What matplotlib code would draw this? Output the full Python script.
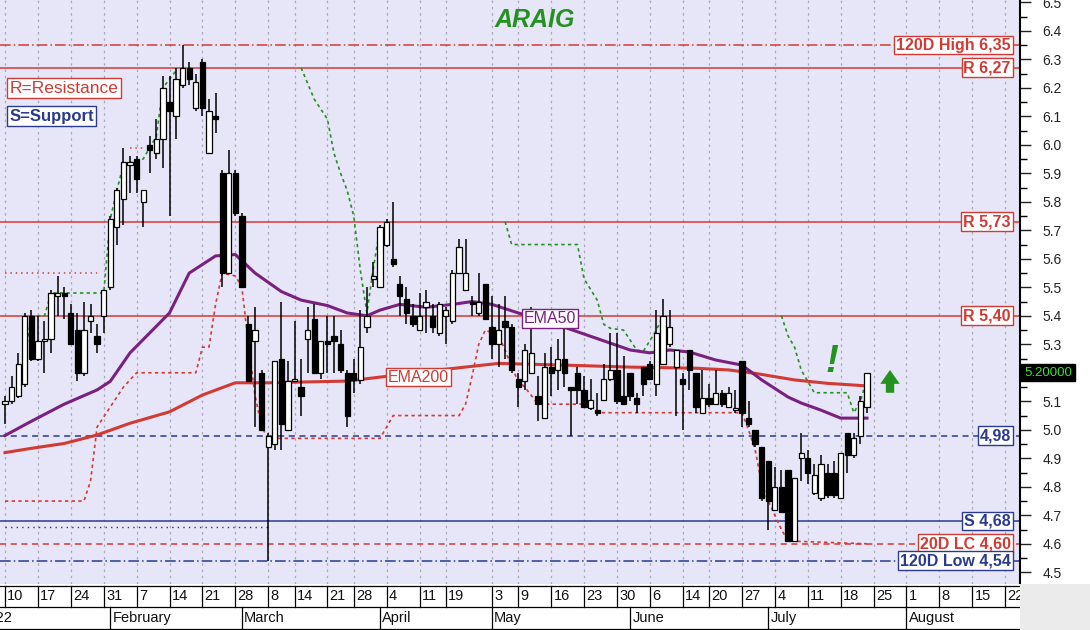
import numpy as np
import pandas as pd
import matplotlib
matplotlib.use('Agg')
import matplotlib.pyplot as plt
from matplotlib.patches import Rectangle

plt.rcParams['font.family'] = ['Liberation Sans', 'DejaVu Sans']

# ---- data ----
start, end = '2022-01-10', '2022-07-22'
holidays = ['2022-03-07', '2022-03-25', '2022-04-15', '2022-04-18',
            '2022-04-22', '2022-04-25', '2022-05-02', '2022-06-13']

opens = [5.09, 5.10, 5.12, 5.16, 5.40, 5.25, 5.31, 5.32, 5.47, 5.48,
         5.41, 5.35, 5.20, 5.38, 5.33, 5.40, 5.50, 5.71, 5.81, 5.93,
         5.95, 5.80, 6.00, 5.97, 6.02, 6.15, 6.10, 6.21, 6.27, 6.13,
         6.29, 5.97, 6.10, 5.90, 5.55, 5.90, 5.75, 5.37, 5.31, 5.20,
         4.94, 4.95, 5.25, 5.00, 5.17, 5.15, 5.32, 5.39, 5.20, 5.31,
         5.33, 5.30, 5.20, 5.20, 5.175, 5.36, 5.53, 5.50, 5.65, 5.60,
         5.51, 5.46, 5.40, 5.35, 5.43, 5.40, 5.34, 5.40, 5.38, 5.55,
         5.49, 5.45, 5.41, 5.51, 5.36, 5.30, 5.38, 5.36, 5.18, 5.17,
         5.20, 5.12, 5.04, 5.22, 5.21, 5.25, 5.15, 5.20, 5.14, 5.075,
         5.07, 5.105, 5.18, 5.21, 5.12, 5.20, 5.11, 5.22, 5.23, 5.16,
         5.23, 5.30, 5.22, 5.18, 5.28, 5.20, 5.06, 5.11, 5.09, 5.13,
         5.08, 5.07, 5.24, 5.04, 5.00, 4.94, 4.89, 4.72, 4.80, 4.86,
         4.61, 4.90, 4.90, 4.78, 4.76, 4.85, 4.85, 4.76, 4.99, 4.91,
         4.98, 5.08]
highs = [5.12, 5.19, 5.27, 5.41, 5.42, 5.40, 5.38, 5.49, 5.54, 5.50,
         5.44, 5.41, 5.45, 5.44, 5.37, 5.49, 5.75, 5.85, 5.99, 5.96,
         5.96, 5.84, 6.03, 6.09, 6.24, 6.24, 6.27, 6.35, 6.29, 6.25,
         6.30, 6.16, 6.18, 5.91, 5.98, 5.91, 5.76, 5.40, 5.43, 5.21,
         4.99, 5.24, 5.45, 5.24, 5.38, 5.25, 5.43, 5.44, 5.31, 5.40,
         5.40, 5.35, 5.21, 5.25, 5.42, 5.50, 5.59, 5.72, 5.74, 5.80,
         5.54, 5.50, 5.44, 5.48, 5.49, 5.44, 5.45, 5.43, 5.56, 5.67,
         5.67, 5.47, 5.55, 5.51, 5.47, 5.44, 5.47, 5.37, 5.20, 5.30,
         5.43, 5.19, 5.27, 5.29, 5.32, 5.36, 5.15, 5.22, 5.19, 5.18,
         5.13, 5.23, 5.34, 5.34, 5.26, 5.20, 5.13, 5.22, 5.24, 5.42,
         5.46, 5.42, 5.28, 5.20, 5.28, 5.20, 5.21, 5.16, 5.21, 5.14,
         5.15, 5.14, 5.24, 5.10, 5.00, 4.94, 4.89, 4.87, 4.86, 4.86,
         4.83, 4.99, 4.93, 4.88, 4.91, 4.88, 4.89, 4.92, 4.99, 4.99,
         5.12, 5.20]
lows = [5.02, 5.09, 5.11, 5.15, 5.24, 5.24, 5.20, 5.27, 5.40, 5.39,
        5.30, 5.17, 5.19, 5.34, 5.27, 5.34, 5.49, 5.65, 5.72, 5.83,
        5.83, 5.71, 5.90, 5.95, 5.92, 5.75, 6.02, 6.20, 6.21, 6.12,
        6.10, 5.97, 6.04, 5.50, 5.55, 5.75, 5.50, 5.17, 5.01, 5.00,
        4.54, 4.93, 4.93, 5.00, 5.17, 5.05, 5.20, 5.20, 5.18, 5.20,
        5.20, 5.20, 5.01, 5.13, 5.16, 5.34, 5.50, 5.50, 5.64, 5.57,
        5.40, 5.37, 5.36, 5.35, 5.34, 5.34, 5.33, 5.30, 5.37, 5.55,
        5.49, 5.40, 5.40, 5.39, 5.25, 5.22, 5.25, 5.20, 5.08, 5.14,
        5.20, 5.03, 5.04, 5.12, 5.14, 5.15, 4.98, 5.09, 5.08, 5.07,
        5.05, 5.10, 5.17, 5.09, 5.09, 5.10, 5.06, 5.12, 5.18, 5.12,
        5.23, 5.29, 5.05, 5.00, 5.14, 5.06, 5.06, 5.08, 5.09, 5.08,
        5.08, 5.06, 5.01, 5.01, 4.94, 4.75, 4.65, 4.72, 4.71, 4.61,
        4.61, 4.82, 4.81, 4.77, 4.75, 4.76, 4.76, 4.76, 4.85, 4.90,
        4.95, 5.06]
closes = [5.10, 5.15, 5.23, 5.40, 5.25, 5.31, 5.32, 5.48, 5.48, 5.47,
          5.30, 5.20, 5.35, 5.40, 5.30, 5.49, 5.74, 5.84, 5.94, 5.94,
          5.88, 5.84, 5.98, 6.02, 6.20, 6.12, 6.23, 6.27, 6.23, 6.22,
          6.13, 6.12, 6.09, 5.55, 5.90, 5.76, 5.50, 5.17, 5.35, 5.00,
          4.98, 5.24, 5.02, 5.17, 5.18, 5.12, 5.35, 5.20, 5.31, 5.30,
          5.31, 5.21, 5.05, 5.175, 5.29, 5.40, 5.54, 5.71, 5.73, 5.58,
          5.47, 5.41, 5.37, 5.40, 5.45, 5.36, 5.44, 5.42, 5.55, 5.64,
          5.55, 5.44, 5.45, 5.39, 5.30, 5.35, 5.36, 5.21, 5.15, 5.28,
          5.27, 5.09, 5.22, 5.20, 5.25, 5.20, 5.14, 5.14, 5.08, 5.105,
          5.06, 5.18, 5.21, 5.10, 5.09, 5.12, 5.09, 5.16, 5.18, 5.34,
          5.40, 5.36, 5.28, 5.16, 5.21, 5.08, 5.11, 5.09, 5.13, 5.09,
          5.13, 5.075, 5.06, 5.02, 4.95, 4.76, 4.75, 4.80, 4.71, 4.61,
          4.83, 4.92, 4.85, 4.84, 4.88, 4.77, 4.77, 4.92, 4.91, 4.97,
          5.10, 5.20]

# moving averages, sampled (candle number, value)
ema50_n = [0, 4, 9, 14, 16, 19, 25, 28, 32, 35, 38, 42, 45, 49, 52, 55, 57, 60,
           64, 68, 71, 74, 78, 85, 90, 95, 98, 101, 104, 108, 112, 115, 118,
           119, 121, 124, 127, 131]
ema50_v = [4.98, 5.03, 5.09, 5.14, 5.17, 5.27, 5.41, 5.55, 5.61, 5.615, 5.55,
           5.485, 5.455, 5.436, 5.41, 5.40, 5.42, 5.44, 5.43, 5.44, 5.45, 5.44,
           5.41, 5.36, 5.32, 5.28, 5.27, 5.28, 5.273, 5.245, 5.227, 5.175,
           5.13, 5.115, 5.094, 5.069, 5.041, 5.041]
ema200_n = [0, 4, 9, 14, 19, 25, 30, 35, 40, 52, 66, 75, 85, 95, 105, 110,
            114, 120, 125, 131]
ema200_v = [4.92, 4.935, 4.952, 4.982, 5.023, 5.063, 5.122, 5.165, 5.165,
            5.171, 5.21, 5.233, 5.227, 5.22, 5.216, 5.21, 5.198, 5.175, 5.163,
            5.154]

# green trailing stop, in pieces
green_stop = [
    ([2, 3, 4, 6, 7, 15, 16, 17, 18, 21, 22, 23, 24, 26],
     [5.12, 5.25, 5.40, 5.40, 5.48, 5.48, 5.74, 5.84, 5.93, 5.95, 5.99, 6.03, 6.20, 6.26]),
    ([45, 47, 49, 50, 51, 52, 53, 54, 55, 56, 57],
     [6.27, 6.16, 6.09, 5.97, 5.90, 5.84, 5.75, 5.56, 5.41, 5.57, 5.71]),
    ([76, 77, 87, 88, 90, 91, 92, 94, 95, 96, 97, 99, 100],
     [5.73, 5.65, 5.65, 5.53, 5.455, 5.37, 5.356, 5.35, 5.315, 5.28, 5.275, 5.35, 5.40]),
    ([118, 119, 120, 121, 123, 128, 129, 130, 131],
     [5.40, 5.33, 5.29, 5.21, 5.13, 5.13, 5.06, 5.10, 5.18]),
]
# red trailing stop
red_stop_n = [0, 12, 13, 14, 16, 18, 20, 29, 30, 31, 32, 33, 35, 36, 37, 38, 39,
              40, 57, 58, 59, 69, 70, 71, 72, 73, 75, 76, 77, 78, 79, 80, 81,
              89, 90, 112, 113, 114, 115, 116, 117, 118, 119, 131]
red_stop_v = [4.75, 4.75, 4.82, 5.01, 5.08, 5.15, 5.20, 5.20, 5.29, 5.29, 5.44,
              5.55, 5.54, 5.50, 5.30, 5.12, 5.01, 4.97, 4.97, 5.01, 5.05, 5.05,
              5.09, 5.19, 5.30, 5.35, 5.33, 5.28, 5.22, 5.17, 5.15, 5.12, 5.09,
              5.09, 5.06, 5.06, 5.00, 4.93, 4.81, 4.75, 4.70, 4.65, 4.61, 4.60]
red_steps = [([0, 14], [5.55, 5.55]), ([19, 21], [5.99, 5.99])]

levels = [
    (6.35, '120D High 6,35', 'red', (0, (7, 2, 1, 2))),
    (6.27, 'R 6,27', 'red', '-'),
    (5.73, 'R 5,73', 'red', '-'),
    (5.40, 'R 5,40', 'red', '-'),
    (4.98, '4,98', 'blue', (0, (4, 3))),
    (4.68, 'S 4,68', 'blue', '-'),
    (4.60, '20D LC 4,60', 'red', (0, (4, 3))),
    (4.54, '120D Low 4,54', 'blue', (0, (7, 2, 1, 2))),
]

week_starts = ['2022-01-10', '2022-01-17', '2022-01-24', '2022-01-31', '2022-02-07',
               '2022-02-14', '2022-02-21', '2022-02-28', '2022-03-08', '2022-03-14',
               '2022-03-21', '2022-03-28', '2022-04-04', '2022-04-11', '2022-04-19',
               '2022-05-03', '2022-05-09', '2022-05-16', '2022-05-23', '2022-05-30',
               '2022-06-06', '2022-06-14', '2022-06-20', '2022-06-27', '2022-07-04',
               '2022-07-11', '2022-07-18', '2022-07-25', '2022-08-01', '2022-08-08',
               '2022-08-15', '2022-08-22']
month_starts = ['2022-02-01', '2022-03-01', '2022-04-01', '2022-05-03', '2022-06-01',
                '2022-07-01', '2022-08-01']
month_names = ['February', 'March', 'April', 'May', 'June', 'July', 'August']
last_price = 5.20

# ---- calendar: trading days, then plain weekdays into the future ----
days = pd.bdate_range(start, end)
days = days[~days.isin(pd.to_datetime(holidays))]
future = pd.bdate_range('2022-07-25', '2022-08-31')
axis_days = days.append(future)
x = np.arange(len(opens))


def pos(d):
    return axis_days.get_loc(pd.Timestamp(d))


RED = '#D23A34'
NAVY = '#2B3A8F'
GREEN = '#23921F'
PURPLE = '#7A2080'
BG = '#E6E6F8'
NARROW = ['Liberation Sans Narrow', 'Liberation Sans', 'DejaVu Sans']

W, H = 1090, 630
fig = plt.figure(figsize=(W / 100, H / 100), dpi=100)
fig.patch.set_facecolor('white')
ax = fig.add_axes([0, 46 / H, 1020 / W, 584 / H])
axd = fig.add_axes([0, 0, 1020 / W, 46 / H], sharex=ax)
fig.patches.append(Rectangle((1020 / W, 0), 70 / W, 46 / H, transform=fig.transFigure,
                             facecolor='#EBEBEB', edgecolor='none'))

ax.set_facecolor(BG)
ax.set_xlim(-5 / 6.58, 1015 / 6.58)
ax.set_ylim(4.459, 6.508)

# week grid
for d in week_starts:
    ax.axvline(pos(d), color='#A8A8B8', lw=0.9, ls=(0, (2, 3)), zorder=0)

# support / resistance levels
for val, txt, col, ls in levels:
    c = RED if col == 'red' else NAVY
    ax.axhline(val, color=c, lw=1.1, ls=ls, zorder=1)
    ax.text(0.991, val, txt, transform=ax.get_yaxis_transform(), ha='right', va='center',
            fontsize=11.5, fontweight='bold', color=c, zorder=6,
            bbox=dict(boxstyle='square,pad=0.12', fc='white', ec=c, lw=1))
ax.plot([0, 40], [4.66, 4.66], color=NAVY, lw=1, ls=(0, (1, 3)), zorder=1)

# trailing stops
for n, v in green_stop:
    ax.plot(n, v, color=GREEN, lw=1.2, ls=(0, (2, 2)), zorder=2)
ax.plot(red_stop_n, red_stop_v, color=RED, lw=1.2, ls=(0, (2, 2)), zorder=2)
for n, v in red_steps:
    ax.plot(n, v, color=RED, lw=1.1, ls=(0, (1, 2.5)), zorder=2)

# moving averages
ax.plot(ema200_n, ema200_v, color=RED, lw=2.2, zorder=3)
ax.plot(ema50_n, ema50_v, color=PURPLE, lw=2.2, zorder=3)

# candles
o = np.array(opens); h = np.array(highs); l = np.array(lows); c = np.array(closes)
ax.vlines(x, l, h, color='black', lw=1.1, zorder=4)
up = c >= o
body = np.maximum(np.abs(c - o), 0.006)
ax.bar(x[up], body[up], bottom=np.minimum(o, c)[up], width=0.8, color='white',
       edgecolor='black', lw=0.9, zorder=5)
ax.bar(x[~up], body[~up], bottom=np.minimum(o, c)[~up], width=0.8, color='black',
       edgecolor='black', lw=0.9, zorder=5)

# labels on the averages
ax.text(82.8, 5.39, 'EMA50', ha='center', va='center', fontsize=11.5, color=PURPLE, zorder=6,
        bbox=dict(boxstyle='square,pad=0.12', fc='white', ec=PURPLE, lw=1))
ax.text(62.8, 5.185, 'EMA200', ha='center', va='center', fontsize=11.5, color=RED, zorder=6,
        bbox=dict(boxstyle='square,pad=0.12', fc='white', ec=RED, lw=1))

# title and legend
ax.text(0.5245, 0.966, 'ARAIG', transform=ax.transAxes, ha='center', va='center',
        fontsize=18, fontweight='bold', fontstyle='italic', color=GREEN)
ax.text(0.009, 0.849, 'R=Resistance', transform=ax.transAxes, ha='left', va='center',
        fontsize=12.5, color=RED,
        bbox=dict(boxstyle='square,pad=0.15', fc='white', ec=RED, lw=1))
ax.text(0.009, 0.801, 'S=Support', transform=ax.transAxes, ha='left', va='center',
        fontsize=12, fontweight='bold', color=NAVY,
        bbox=dict(boxstyle='square,pad=0.15', fc='white', ec=NAVY, lw=1))

# signal marks
ax.text(125.7, 5.238, '!', ha='center', va='center', fontsize=28, fontweight='bold',
        fontstyle='italic', color=GREEN, zorder=6)
ax.annotate('', xy=(134.5, 5.21), xytext=(134.5, 5.13),
            arrowprops=dict(arrowstyle='simple,head_width=1.4,head_length=1.0,tail_width=0.6',
                            color=GREEN, lw=0, shrinkA=0, shrinkB=0))

# right price axis
yt = np.round(np.arange(4.5, 6.51, 0.1), 1)
ax.yaxis.tick_right()
ax.set_yticks(yt)
ax.set_yticks(np.arange(4.55, 6.5, 0.1), minor=True)
ax.set_yticklabels(['' if v == last_price else f'{v:.1f}' for v in yt])
ax.tick_params(axis='y', which='major', direction='out', length=8, width=1, pad=8,
               labelsize=10, colors='#222222')
ax.tick_params(axis='y', which='minor', direction='out', length=5, width=1)
ax.tick_params(axis='x', bottom=False, labelbottom=False)
for s in ['top', 'left', 'bottom']:
    ax.spines[s].set_visible(False)
ax.spines['right'].set_linewidth(1.5)
ax.text(1.004, last_price, f'{last_price:.5f}', transform=ax.get_yaxis_transform(),
        ha='left', va='center', fontsize=9.5, color='#3BE03B', clip_on=False,
        bbox=dict(boxstyle='square,pad=0.2', fc='black', ec='black'))

# date axis: week row and month row
axd.set_ylim(0, 46)
axd.axis('off')
axd.add_patch(Rectangle((-5, 0), 200, 46, facecolor='white', edgecolor='none', zorder=0))
for yy in [44, 23, 1.5]:
    axd.axhline(yy, color='black', lw=0.9)
for d in week_starts:
    p = pos(d)
    axd.plot([p, p], [23, 44], color='black', lw=0.9)
    axd.text(p + 0.35, 33.5, str(pd.Timestamp(d).day), ha='left', va='center',
             fontsize=10.5, color='#111111', clip_on=True, family=NARROW)
for d, name in zip(month_starts, month_names):
    p = pos(d)
    axd.plot([p, p], [1.5, 23], color='black', lw=0.9)
    axd.text(p + 0.35, 12, name, ha='left', va='center', fontsize=10.5, color='#111111',
             family=NARROW)
axd.text(1.1, 12, 'January 2022', ha='right', va='center', fontsize=10.5, color='#111111',
         clip_on=True, family=NARROW)

fig.savefig('out.png', dpi=100)
